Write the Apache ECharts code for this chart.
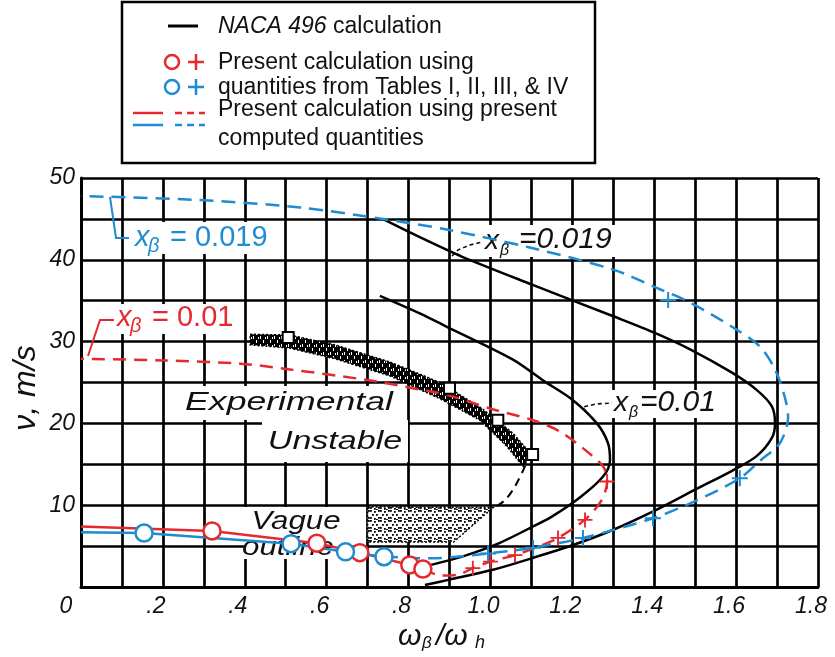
<!DOCTYPE html>
<html>
<head>
<meta charset="utf-8">
<script src="https://cdn.jsdelivr.net/npm/echarts/dist/echarts.min.js"></script>
<style>html,body{margin:0;padding:0;background:#fff}#c{width:835px;height:657px}</style>
</head>
<body>
<div id="c"></div>
<script>
// ---------------- DATA ----------------
const xTickValues = [0, 0.2, 0.4, 0.6, 0.8, 1.0, 1.2, 1.4, 1.6, 1.8];
const xTickLabels = ['0', '.2', '.4', '.6', '.8', '1.0', '1.2', '1.4', '1.6', '1.8'];
const yTickValues = [10, 20, 30, 40, 50];
const yTickLabels = ['10', '20', '30', '40', '50'];

// NACA 496 calculation (black solid)
const naca019 = [[0.737,45.0],[0.83,42.7],[0.93,40.4],[1.10,37.0],[1.30,33.1],[1.40,31.1],[1.49,29.0],[1.59,26.2],[1.65,24.1],[1.687,22.1],[1.695,20.0],[1.687,18.2],[1.65,16.0],[1.59,14.2],[1.50,11.9],[1.40,9.3],[1.30,7.0],[1.20,5.1],[1.10,3.5],[1.006,2.1],[0.90,0.9],[0.84,0.25]];
const naca010 = [[0.73,35.6],[0.83,33.4],[0.89,31.9],[1.055,27.8],[1.13,25.2],[1.20,22.9],[1.26,20.0],[1.287,17.6],[1.292,15.5],[1.275,13.5],[1.22,11.0],[1.15,8.6],[1.104,7.4],[1.023,5.4],[0.942,3.9],[0.855,2.7]];
const experimentalDashed = [[1.085,14.8],[1.06,12.3],[1.035,10.6],[1.0,9.4]];

// Present calculation, x_beta = 0.01 (red)
const redSolid = [[0,7.4],[0.32,6.85],[0.576,5.35],[0.681,4.2],[0.803,2.7],[0.835,2.2]];
const redDashed = [[0.835,2.2],[0.88,1.4],[0.92,1.5],[0.957,2.3],[1.0,3.1],[1.06,3.9],[1.11,4.8],[1.165,6.0],[1.23,8.2],[1.27,10.5],[1.285,12.9],[1.277,14.6],[1.24,16.4],[1.17,19.0],[1.104,20.4],[1.0,21.8],[0.9,23.4],[0.8,24.4],[0.7,25.3],[0.51,26.6],[0.39,27.3],[0.2,27.7],[0,27.9]];
const redCircles = [[0.32,6.85],[0.576,5.35],[0.681,4.2],[0.803,2.7],[0.835,2.2]];
const redPlus = [[0.957,2.3],[1.0,3.1],[1.06,3.9],[1.165,6.0],[1.231,8.2],[1.285,12.9]];

// Present calculation, x_beta = 0.019 (blue)
const blueSolid = [[0,6.7],[0.154,6.6],[0.513,5.3],[0.646,4.3],[0.74,3.7]];
const blueDashed = [[0.74,3.7],[0.86,3.5],[0.917,3.7],[0.994,4.1],[1.104,4.8],[1.226,6.0],[1.397,8.4],[1.50,10.5],[1.609,13.3],[1.66,15.5],[1.707,17.6],[1.727,20.8],[1.72,23.0],[1.695,26.6],[1.658,29.4],[1.60,31.5],[1.487,34.8],[1.414,36.4],[1.30,38.8],[1.096,41.5],[0.893,43.7],[0.737,45.0],[0.535,46.4],[0.29,47.3],[0,47.8]];
const blueCircles = [[0.154,6.6],[0.513,5.3],[0.646,4.3],[0.74,3.7]];
const bluePlus = [[0.994,4.1],[1.104,4.8],[1.226,6.0],[1.397,8.4],[1.609,13.3],[1.434,35.1]];

// Experimental unstable band and vague outline region
const bandTop = [[0.413,30.9],[0.51,30.8],[0.62,29.6],[0.755,27.5],[0.877,25.0],[0.98,21.8],[1.055,18.8],[1.10,16.2]];
const bandBottom = [[1.08,14.7],[1.04,17.2],[0.974,20.4],[0.877,23.0],[0.755,25.8],[0.62,27.9],[0.51,29.2],[0.413,29.6]];
const bandSquares = [[0.506,30.5],[0.90,24.3],[1.018,20.4],[1.103,16.2]];
const vagueRegion = [[0.70,9.8],[1.006,9.7],[0.91,5.5],[0.70,5.5]];

// ---------------- STYLE ----------------
const RED = '#e42a2f', BLUE = '#1f8bd1', INK = '#111';
const FONT = '"Liberation Sans", Arial, Helvetica, sans-serif';
const PLUS = 'path://M-1,-8h2v7h7v2h-7v7h-2v-7h-7v-2h7z';

function makeHatch() {
  const c = document.createElement('canvas'); c.width = 7; c.height = 8;
  const g = c.getContext('2d');
  g.fillStyle = '#000'; g.fillRect(0, 0, 7, 8);
  g.fillStyle = '#fff';
  g.fillRect(1, 0, 1, 3); g.fillRect(4, 4, 1, 3); g.fillRect(6, 1, 1, 2);
  return c;
}
function makeStipple() {
  const c = document.createElement('canvas'); c.width = 10; c.height = 10;
  const g = c.getContext('2d');
  g.fillStyle = '#fff'; g.fillRect(0, 0, 10, 10);
  g.fillStyle = '#000';
  [[0,0],[4,1],[8,0],[2,4],[6,4],[0,7],[4,8],[8,7],[6,9]].forEach(d => g.fillRect(d[0], d[1], 1.8, 1.8));
  return c;
}

function polygonSeries(points, fill, stroke, z, lw) {
  return {
    type: 'custom', coordinateSystem: 'cartesian2d', silent: true, z: z,
    data: [[0, 0]],
    renderItem: function (params, api) {
      return { type: 'polygon', shape: { points: points.map(p => api.coord(p)) },
               style: { fill: fill, stroke: stroke, lineWidth: lw || 1.2, lineDash: stroke ? [2, 2] : null } };
    }
  };
}
function lineSeries(data, color, type, smooth, width) {
  return { type: 'line', data: data, showSymbol: false, smooth: smooth, z: 2,
           lineStyle: { color: color, width: width || 2.5, type: type }, silent: true };
}
function scatterSeries(data, symbol, size, stroke, fill, bw, z) {
  return { type: 'scatter', data: data, symbol: symbol, symbolSize: size, z: z, silent: true,
           itemStyle: { color: fill, borderColor: stroke, borderWidth: bw, opacity: 1 } };
}

// ---------------- GRAPHIC (legend, annotations, titles) ----------------
function txt(x, y, text, size, opts) {
  opts = opts || {};
  return { type: 'text', x: x, y: y, z: opts.z || 5, scaleX: opts.scaleX || 1, rotation: opts.rotation || 0,
           style: { text: text, fontSize: size, fontFamily: FONT, fontStyle: opts.italic ? 'italic' : 'normal',
                    fill: opts.color || INK, align: opts.align || 'left', verticalAlign: 'middle', rich: opts.rich } };
}
function whiteBox(x, y, w, h) {
  return { type: 'rect', z: 1, shape: { x: x, y: y, width: w, height: h }, style: { fill: '#fff' } };
}
function seg(x1, y1, x2, y2, color, w, dash, z) {
  return { type: 'line', z: z || 5, shape: { x1: x1, y1: y1, x2: x2, y2: y2 },
           style: { stroke: color, lineWidth: w, lineDash: dash || null } };
}

const graphics = [
  // masks behind in-plot texts
  whiteBox(180, 386, 220, 34), whiteBox(262, 420, 146, 42), whiteBox(244, 507, 104, 52),
  whiteBox(131, 222, 146, 32), whiteBox(114, 304, 125, 30),
  whiteBox(482, 225, 140, 32), whiteBox(610, 390, 118, 28),
  // hand-lettered region labels
  txt(289, 403, 'Experimental', 26, { italic: true, align: 'center', scaleX: 1.37, z: 1 }),
  txt(335, 442, 'Unstable', 26, { italic: true, align: 'center', scaleX: 1.31, z: 1 }),
  txt(296, 522, 'Vague', 26, { italic: true, align: 'center', scaleX: 1.2, z: 1 }),
  txt(288, 548, 'outline', 26, { italic: true, align: 'center', scaleX: 1.2, z: 1 }),
  // black NACA annotations
  txt(485, 241, 'x', 28, { italic: true, z: 1 }),
  txt(500, 251, 'β', 16, { italic: true, z: 1 }),
  txt(519, 240, '=0.019', 30, { italic: true, z: 1 }),
  { type: 'polyline', z: 1, shape: { points: [[452, 256], [458, 250], [470, 245], [482, 242]] }, style: { stroke: INK, lineWidth: 1.6, lineDash: [4, 3], fill: null } },
  txt(614, 403, 'x', 28, { italic: true, z: 1 }),
  txt(629, 413, 'β', 16, { italic: true, z: 1 }),
  txt(640, 403, '=0.01', 30, { italic: true, z: 1 }),
  { type: 'polyline', z: 1, shape: { points: [[586, 412], [583, 407], [596, 404], [612, 403]] }, style: { stroke: INK, lineWidth: 1.6, lineDash: [4, 3], fill: null } },
  // coloured labels
  txt(135, 238, 'x', 29, { italic: true, color: BLUE, z: 1 }),
  txt(148, 246, 'β', 20, { italic: true, color: BLUE, z: 1 }),
  txt(170, 238, '= 0.019', 29, { color: BLUE, z: 1 }),
  { type: 'polyline', z: 5, shape: { points: [[110, 197], [116, 238], [129, 238]] }, style: { stroke: BLUE, lineWidth: 2, fill: null } },
  txt(117, 318, 'x', 29, { italic: true, color: RED, z: 1 }),
  txt(130, 326, 'β', 20, { italic: true, color: RED, z: 1 }),
  txt(152, 318, '= 0.01', 29, { color: RED, z: 1 }),
  { type: 'polyline', z: 5, shape: { points: [[88, 356], [100, 320], [114, 320]] }, style: { stroke: RED, lineWidth: 2, fill: null } },
  // axis titles
  txt(26, 388, 'ν, m/s', 32, { italic: true, align: 'center', rotation: Math.PI / 2 }),
  txt(398, 637, 'ω', 30, { italic: true }),
  txt(422, 643, 'β', 17, { italic: true }),
  txt(436, 637, '/ω', 30, { italic: true }),
  txt(475, 643, 'h', 18, { italic: true }),
  // legend
  { type: 'rect', z: 10, shape: { x: 122, y: 2, width: 473, height: 161 }, style: { fill: '#fff', stroke: '#000', lineWidth: 2.5 } },
  seg(168, 26, 198, 26, '#000', 3, null, 11),
  txt(218, 27, '{i|NACA 496} calculation', 23, { z: 11, rich: { i: { fontStyle: 'italic', fontSize: 23, fontFamily: FONT, color: INK } } }),
  { type: 'circle', z: 11, shape: { cx: 172, cy: 62, r: 7 }, style: { fill: '#fff', stroke: RED, lineWidth: 2.5 } },
  seg(188, 62, 204, 62, RED, 2.5, null, 11), seg(196, 54, 196, 70, RED, 2.5, null, 11),
  { type: 'circle', z: 11, shape: { cx: 172, cy: 87, r: 7 }, style: { fill: '#fff', stroke: BLUE, lineWidth: 2.5 } },
  seg(188, 87, 204, 87, BLUE, 2.5, null, 11), seg(196, 79, 196, 95, BLUE, 2.5, null, 11),
  txt(218, 63, 'Present calculation using', 23, { z: 11 }),
  txt(218, 88, 'quantities from Tables I, II, III, & IV', 23, { z: 11 }),
  seg(133, 113, 163, 113, RED, 2.5, null, 11), seg(133, 125, 163, 125, BLUE, 2.5, null, 11),
  seg(175, 113, 205, 113, RED, 2.5, [7, 5], 11), seg(175, 125, 205, 125, BLUE, 2.5, [7, 5], 11),
  txt(218, 110, 'Present calculation using present', 23, { z: 11 }),
  txt(218, 139, 'computed quantities', 23, { z: 11 })
];

// ---------------- CHART ----------------
const chart = echarts.init(document.getElementById('c'), null, { renderer: 'canvas' });
const labelStyle = { fontSize: 23, fontStyle: 'italic', fontFamily: FONT, color: INK };
chart.setOption({
  animation: false,
  backgroundColor: '#fff',
  grid: { left: 81, right: 17, top: 178, bottom: 70, containLabel: false },
  xAxis: {
    type: 'value', min: 0, max: 1.8, interval: 0.1,
    axisLine: { show: true, lineStyle: { color: '#000', width: 3 } },
    axisTick: { show: false },
    splitLine: { show: true, lineStyle: { color: '#000', width: 2.7 } },
    axisLabel: Object.assign({}, labelStyle, {
      margin: 8, padding: [0, 14, 0, 0],
      formatter: function (v) {
        const i = xTickValues.findIndex(t => Math.abs(t - v) < 1e-6);
        if (i < 0) return '';
        return i === 0 ? '{o|' + xTickLabels[i] + '}' : xTickLabels[i];
      },
      rich: { o: Object.assign({}, labelStyle, { padding: [0, 16, 0, 0] }) }
    })
  },
  yAxis: {
    type: 'value', min: 0, max: 50, interval: 5,
    axisLine: { show: true, lineStyle: { color: '#000', width: 3 } },
    axisTick: { show: false },
    splitLine: { show: true, lineStyle: { color: '#000', width: 2.7 } },
    axisLabel: Object.assign({}, labelStyle, {
      margin: 6,
      formatter: function (v) {
        const i = yTickValues.findIndex(t => Math.abs(t - v) < 1e-6);
        return i < 0 ? '' : yTickLabels[i];
      }
    })
  },
  graphic: { elements: graphics },
  series: [
    polygonSeries(bandTop.concat(bandBottom), { image: makeHatch(), repeat: 'repeat' }, '#000', 1, 1.5),
    polygonSeries(vagueRegion, { image: makeStipple(), repeat: 'repeat' }, '#000', 1, 1.5),
    lineSeries(naca019, '#000', 'solid', 0.3),
    lineSeries(naca010, '#000', 'solid', 0.3),
    lineSeries(experimentalDashed, '#000', [8, 6], 0.3, 2),
    lineSeries(redSolid, RED, 'solid', false),
    lineSeries(redDashed, RED, [13, 8], 0.3),
    lineSeries(blueSolid, BLUE, 'solid', false),
    lineSeries(blueDashed, BLUE, [14, 8], 0.3),
    scatterSeries(bandSquares, 'rect', 11, '#000', '#fff', 2, 3),
    scatterSeries(redCircles, 'circle', 17, RED, '#fff', 2.5, 4),
    scatterSeries(blueCircles, 'circle', 17, BLUE, '#fff', 2.5, 4),
    scatterSeries(redPlus, PLUS, 15, RED, RED, 0, 4),
    scatterSeries(bluePlus, PLUS, 16, BLUE, BLUE, 0, 4)
  ]
});
</script>
</body>
</html>
